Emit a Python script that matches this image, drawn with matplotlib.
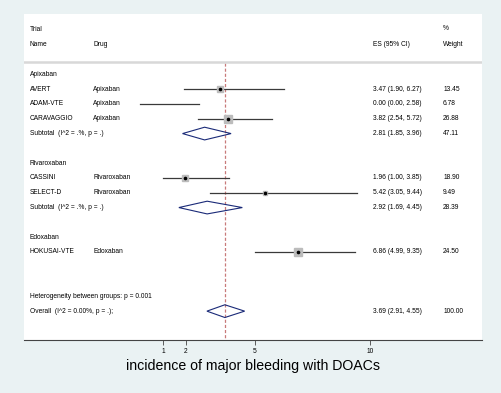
import numpy as np
import matplotlib
matplotlib.use("Agg")
import matplotlib.pyplot as plt
from matplotlib.patches import Polygon

plt.rcParams["font.family"] = ["Liberation Sans", "DejaVu Sans"]

# ---------------------------------------------------------------------------
# Dati
# ---------------------------------------------------------------------------
groups = ["Apixaban", "Rivaroxaban", "Edoxaban"]
trials = ["AVERT", "ADAM-VTE", "CARAVAGGIO", "CASSINI", "SELECT-D", "HOKUSAI-VTE"]
drugs = ["Apixaban", "Apixaban", "Apixaban", "Rivaroxaban", "Rivaroxaban", "Edoxaban"]
trial_group = [0, 0, 0, 1, 1, 2]
es = [3.47, 0.00, 3.82, 1.96, 5.42, 6.86]
lo = [1.90, 0.00, 2.54, 1.00, 3.05, 4.99]
hi = [6.27, 2.58, 5.72, 3.85, 9.44, 9.35]
weight = [13.45, 6.78, 26.88, 18.90, 9.49, 24.50]

sub_es = [2.81, 2.92]
sub_lo = [1.85, 1.69]
sub_hi = [3.96, 4.45]
sub_w = [47.11, 28.39]

overall = (3.69, 2.91, 4.55, 100.00)
het_p = "0.001"
xticks = [1, 2, 5, 10]
xlabel = "incidence of major bleeding with DOACs"

BG = "#eaf2f3"
NAVY = "#1a2a78"
FS = 4.8

fig = plt.figure(figsize=(5.02, 3.93), dpi=100, facecolor=BG)
ax = fig.add_axes([24 / 502, 53 / 393, 458 / 502, 326 / 393])
ax.set_xlim(-5.043, 14.87)
ax.set_ylim(20.95, -1.08)

for s in ["top", "left", "right"]:
    ax.spines[s].set_visible(False)
ax.spines["bottom"].set_color("#444444")
ax.spines["bottom"].set_linewidth(0.8)
ax.set_yticks([])
ax.set_xticks(xticks)
ax.set_xticklabels([str(t) for t in xticks], fontsize=FS)
ax.tick_params(axis="x", length=3.5, width=0.6, color="#444444", pad=2)
ax.set_xlabel(xlabel, fontsize=10.2, labelpad=3)

tr = ax.get_yaxis_transform()  # x in frazione, y in dati
COL_NAME, COL_DRUG, COL_ES, COL_W = 0.0131, 0.1507, 0.762, 0.915


def txt(col, row, s):
    ax.text(col, row, s, transform=tr, fontsize=FS, va="center", ha="left")


# intestazione
txt(COL_NAME, 0, "Trial")
txt(COL_W, -0.1, "%")
txt(COL_NAME, 1, "Name")
txt(COL_DRUG, 1, "Drug")
txt(COL_ES, 1, "ES (95% CI)")
txt(COL_W, 1, "Weight")
ax.axhline(2.16, color="#d8d8d8", lw=1.8)

# linea dell'effetto complessivo
ax.plot([overall[0], overall[0]], [2.2, 20.95], ls=(0, (2.5, 1.6)),
        color="#c87a7a", lw=0.9, zorder=1)

def diamond(row, e, l, h):
    d = 0.43
    ax.add_patch(Polygon([(l, row), (e, row - d), (h, row), (e, row + d)],
                         closed=True, fill=False, ec=NAVY, lw=0.8, zorder=3))


row = 3
for g, name in enumerate(groups):
    txt(COL_NAME, row, name)
    row += 1
    for i in range(len(trials)):
        if trial_group[i] != g:
            continue
        txt(COL_NAME, row, trials[i])
        txt(COL_DRUG, row, drugs[i])
        txt(COL_ES, row, f"{es[i]:.2f} ({lo[i]:.2f}, {hi[i]:.2f})")
        txt(COL_W, row, f"{weight[i]:.2f}")
        ax.plot([lo[i], hi[i]], [row, row], color="#3a3a3a", lw=0.9, zorder=2)
        if es[i] > 0:
            side = 1.55 * np.sqrt(weight[i])
            ax.plot(es[i], row, marker="s", ms=side * 0.72, mfc="#bcbcbc",
                    mec="#bcbcbc", zorder=3)
            ax.plot(es[i], row, marker="o", ms=1.6, color="black", zorder=4)
        row += 1
    if g < len(sub_es):
        txt(COL_NAME, row, "Subtotal  (I^2 = .%, p = .)")
        txt(COL_ES, row, f"{sub_es[g]:.2f} ({sub_lo[g]:.2f}, {sub_hi[g]:.2f})")
        txt(COL_W, row, f"{sub_w[g]:.2f}")
        diamond(row, sub_es[g], sub_lo[g], sub_hi[g])
    row += 2

txt(COL_NAME, row, f"Heterogeneity between groups: p = {het_p}")
row += 1
txt(COL_NAME, row, "Overall  (I^2 = 0.00%, p = .);")
txt(COL_ES, row, f"{overall[0]:.2f} ({overall[1]:.2f}, {overall[2]:.2f})")
txt(COL_W, row, f"{overall[3]:.2f}")
diamond(row, overall[0], overall[1], overall[2])

fig.savefig("out.png", dpi=100, facecolor=BG)
